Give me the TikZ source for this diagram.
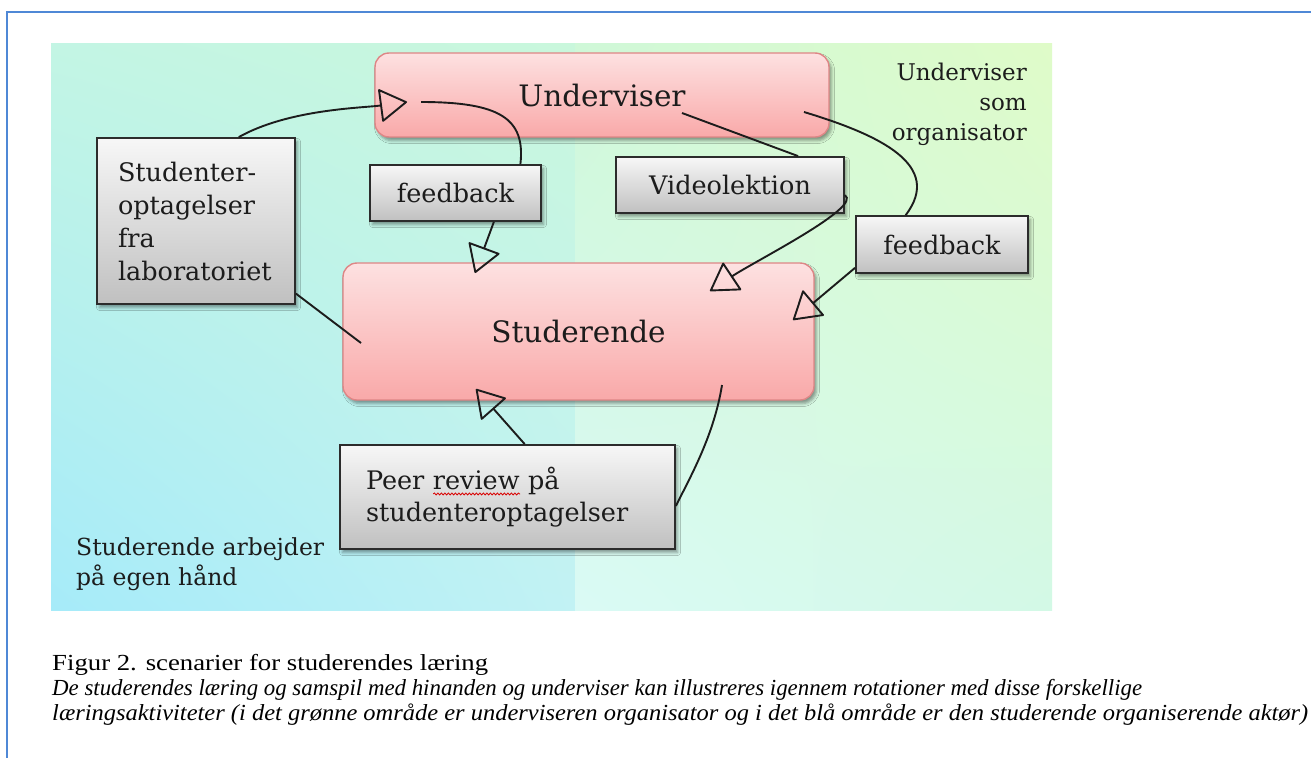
\documentclass[tikz,border=0pt]{standalone}
\usepackage{fontspec}
\setmainfont{Liberation Serif}
\newfontfamily\figfont{DejaVu Serif}
\usepackage{graphicx}
\usetikzlibrary{arrows.meta,shadings,shadows,shadows.blur,decorations.pathmorphing}

% red wavy spell-check underline below a word
\newsavebox\wavebox
\newcommand\spellwave[1]{\sbox\wavebox{#1}%
  \rlap{\raisebox{-6pt}{\tikz\draw[red!85!black, line width=0.8pt,
      decorate, decoration={snake, amplitude=1pt, segment length=3.5pt}]
      (0pt,0pt) -- (\wd\wavebox,0pt);}}#1}

\definecolor{frameblue}{HTML}{4F88D6}
\definecolor{ink}{HTML}{1C1C1C}
\definecolor{pinktop}{HTML}{FDE1E1}
\definecolor{pinkbot}{HTML}{F9A9A9}
\definecolor{pinkedge}{HTML}{DE8686}
\definecolor{graytop}{HTML}{F7F7F7}
\definecolor{graybot}{HTML}{C0C0C0}
\definecolor{boxedge}{HTML}{2C2C2C}
\definecolor{bgA}{HTML}{C3F5E4}
\definecolor{bgB}{HTML}{C9F7DC}
\definecolor{bgC}{HTML}{A6EBF9}
\definecolor{bgD}{HTML}{C2F2F4}
\definecolor{bgE}{HTML}{CFF8D8}
\definecolor{bgF}{HTML}{DFFBC8}
\definecolor{bgG}{HTML}{DAFAF5}
\definecolor{bgH}{HTML}{D3F9E6}

\tikzset{
  softshadow/.style={blur shadow={shadow xshift=2.5pt, shadow yshift=-3.5pt,
      shadow blur radius=3pt, shadow opacity=40}},
  pinkbox/.style={rounded corners=14pt, draw=pinkedge, line width=1.4pt,
      top color=pinktop, bottom color=pinkbot, inner sep=0pt, text=ink,
      font=\figfont\fontsize{29.5}{34}\selectfont, softshadow},
  graybox/.style={draw=boxedge, line width=1.8pt,
      top color=graytop, bottom color=graybot, inner sep=0pt, text=ink,
      font=\figfont\fontsize{25.5}{33}\selectfont, softshadow},
  areatext/.style={inner sep=0pt, text=ink},
  captext/.style={inner sep=0pt, anchor=base west, text=black,
      font=\fontsize{23}{25}\selectfont},
  link/.style={draw=ink, line width=1.9pt},
  tip/.style={-{Triangle[open, length=28pt, width=34pt, round]}},
}

\begin{document}
\begin{tikzpicture}[x=1pt, y=-1pt]
\useasboundingbox (0,0) rectangle (1311,758);
\fill[white] (0,0) rectangle (1311,758);

% frame lines
\draw[frameblue, line width=2pt] (1311,12) -- (7,12) -- (7,758);

% background areas: student side (left) and teacher side (right)
\shade[upper left=bgA, upper right=bgB, lower left=bgC, lower right=bgD]
  (51,43) rectangle (575,610);
\shade[upper left=bgE, upper right=bgF, lower left=bgG, lower right=bgH]
  (575,43) rectangle (1052,610);

% area labels
\node[areatext, anchor=north east, align=right,
      font=\figfont\fontsize{23}{30}\selectfont] (orgtxt) at (1027,63)
  {Underviser\\som\\organisator};
\node[areatext, anchor=north west, align=left,
      font=\figfont\fontsize{23.5}{30}\selectfont] (selftxt) at (76,537)
  {Studerende arbejder\\på egen hånd};

% actors
\node[pinkbox, minimum width=454pt, minimum height=84pt] (und) at (602,95) {Underviser};
\node[pinkbox, minimum width=471pt, minimum height=137pt] (std) at (578.5,331.5) {Studerende};

% activities
\node[graybox, minimum width=198pt, minimum height=166pt, text width=156pt, align=left]
  (stud) at (196,221) {Studenter-\\optagelser\\fra\\laboratoriet};
\node[graybox, minimum width=171pt, minimum height=56pt] (fb1) at (455.5,193) {feedback};
\node[graybox, minimum width=228pt, minimum height=56pt] (video) at (730,185) {Videolektion};
\node[graybox, minimum width=172pt, minimum height=57pt] (fb2) at (942,244.5) {feedback};
\node[graybox, minimum width=335pt, minimum height=104pt, text width=283pt, align=left,
      font=\figfont\fontsize{25.5}{32}\selectfont]
  (peer) at (507.5,497) {Peer \spellwave{review} på\\studenteroptagelser};

% connector end points inside the actor boxes
\coordinate (t1) at (407,102);
\coordinate (u1) at (421,102);
\coordinate (u2) at (682,113);
\coordinate (u3) at (804,112);
\coordinate (t2) at (475,273);
\coordinate (t3) at (710,291);
\coordinate (t4) at (793,320);
\coordinate (s4) at (361,343);
\coordinate (t5) at (476,389);
\coordinate (s5) at (722,385);

% connectors
\draw[link, tip] (stud.63) .. controls +(50,-28) and +(-45,6) .. (t1);
\draw[link] (u1) .. controls +(80,0) and +(5,-45) .. (fb1.24);
\draw[link, tip] (fb1.-37) -- (t2);
\draw[link] (u2) -- (video.23);
\draw[link, tip] (video.-5) .. controls +(18,12) and +(45,-30) .. (t3);
\draw[link] (u3) .. controls +(76,23) and +(38,-50) .. (fb2.141);
\draw[link, tip] (fb2.195) -- (t4);
\draw[link] (stud.-36) -- (s4);
\draw[link, tip] (peer.72) -- (t5);
\draw[link] (s5) .. controls +(-8,50) and +(15,-30) .. (peer.-3);

% caption
\node[captext] (cap1) at (52,670)
  {\resizebox{436pt}{\height}{Figur 2. scenarier for studerendes læring}};
\node[captext] (cap2) at (52,695)
  {\resizebox{1090pt}{\height}{\itshape De studerendes læring og samspil med hinanden og underviser kan illustreres igennem rotationer med disse forskellige}};
\node[captext] (cap3) at (52,720)
  {\resizebox{1256pt}{\height}{\itshape læringsaktiviteter (i det grønne område er underviseren organisator og i det blå område er den studerende organiserende aktør)}};
\end{tikzpicture}
\end{document}
